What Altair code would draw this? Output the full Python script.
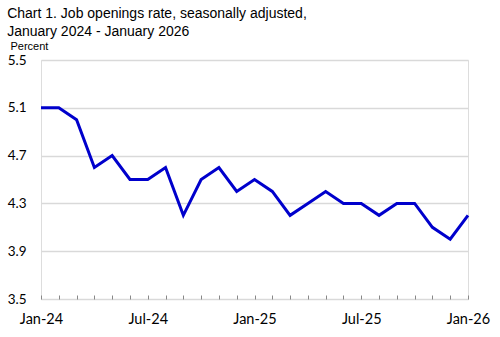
import altair as alt
import pandas as pd

month_labels = ["Jan-24", "Feb-24", "Mar-24", "Apr-24", "May-24", "Jun-24", "Jul-24",
                "Aug-24", "Sep-24", "Oct-24", "Nov-24", "Dec-24", "Jan-25", "Feb-25",
                "Mar-25", "Apr-25", "May-25", "Jun-25", "Jul-25", "Aug-25", "Sep-25",
                "Oct-25", "Nov-25", "Dec-25", "Jan-26"]
rates = [5.1, 5.1, 5.0, 4.6, 4.7, 4.5, 4.5, 4.6, 4.2, 4.5, 4.6, 4.4, 4.5,
         4.4, 4.2, 4.3, 4.4, 4.3, 4.3, 4.2, 4.3, 4.3, 4.1, 4.0, 4.2]
y_ticks = [3.5, 3.9, 4.3, 4.7, 5.1, 5.5]
x_label_months = ["Jan-24", "Jul-24", "Jan-25", "Jul-25", "Jan-26"]

df = pd.DataFrame({"i": list(range(len(rates))), "month": month_labels, "rate": rates})

label_arr = "[" + ",".join(f"'{m}'" for m in month_labels) + "]"
show_arr = "[" + ",".join(f"'{m}'" for m in x_label_months) + "]"
label_expr = f"indexof({show_arr}, {label_arr}[datum.value]) >= 0 ? {label_arr}[datum.value] : ''"

label_font = "Lato"

chart = alt.Chart(df).mark_line(color="#0000CC", strokeWidth=3).encode(
    x=alt.X("i:Q",
            scale=alt.Scale(domain=[0, len(rates) - 1], nice=False, zero=False),
            axis=alt.Axis(values=list(range(len(rates))), labelExpr=label_expr,
                          title=None, grid=False, domain=False, offset=-4,
                          ticks=True, tickSize=4, tickColor="#888888", tickWidth=1,
                          labelPadding=13, labelFont=label_font, labelFontSize=14.5,
                          labelColor="black", labelOverlap=False, labelFlush=False)),
    y=alt.Y("rate:Q",
            scale=alt.Scale(domain=[3.5, 5.5], nice=False, zero=False),
            axis=alt.Axis(values=y_ticks, format=".1f", grid=True, gridColor="#d9d9d9",
                          gridWidth=1.5, ticks=False, domain=False,
                          labelPadding=15, labelFont=label_font, labelFontSize=13.5,
                          labelColor="black",
                          title="Percent", titleAngle=0, titleAlign="left",
                          titleBaseline="alphabetic", titleX=-31, titleY=-11,
                          titleFont="Liberation Sans", titleFontSize=11,
                          titleFontWeight="normal", titleColor="black")),
).properties(
    width=427,
    height=239,
    title=alt.TitleParams(
        text=["Chart 1. Job openings rate, seasonally adjusted,",
              "January 2024 - January 2026"],
        anchor="start", frame="bounds", font="Liberation Sans", fontSize=14,
        fontWeight="normal", color="black", lineHeight=18, offset=1),
    padding={"left": 7, "top": 7, "right": 4, "bottom": 5},
).configure_view(
    stroke="#8c8c8c", strokeWidth=1.2
).configure(background="white")

chart.save("out.html", embed_options={"renderer": "svg", "actions": False})
